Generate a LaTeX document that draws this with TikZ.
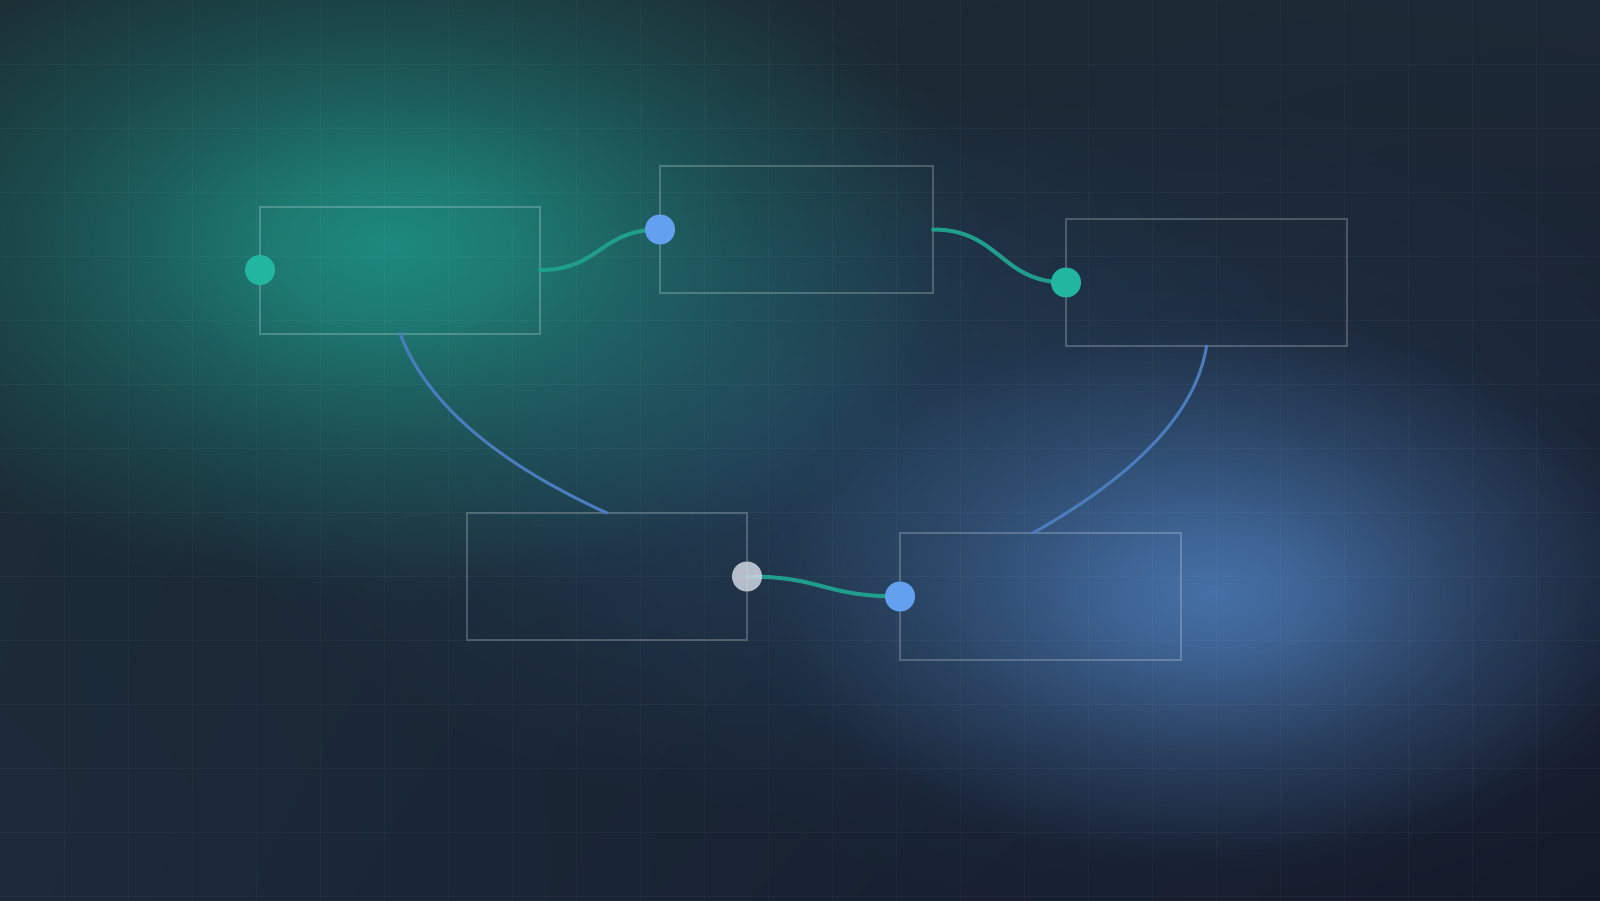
\documentclass[tikz,border=0pt]{standalone}
\usetikzlibrary{fadings,shadings,calc}
\pgfdeclareradialshading{glowsh}{\pgfpoint{0bp}{0bp}}{color(0bp)=(white); color(5bp)=(black!17); color(10bp)=(black!44); color(15bp)=(black!67); color(20bp)=(black!85); color(23bp)=(black!96); color(25bp)=(black); color(50bp)=(black)}
\pgfdeclarefading{glowfade}{\pgfuseshading{glowsh}}
\definecolor{bgUL}{HTML}{1B2C33}
\definecolor{bgUR}{HTML}{1D2836}
\definecolor{bgLL}{HTML}{1C2A3A}
\definecolor{bgLR}{HTML}{151A2A}
\definecolor{tealglow}{HTML}{1E8A7E}
\definecolor{blueglow}{HTML}{4670A6}
\definecolor{bluehaze}{HTML}{2A4A70}
\definecolor{midglow}{HTML}{2A4C6A}
\definecolor{tealdot}{HTML}{22B5A0}
\definecolor{bluedot}{HTML}{64A0F0}
\definecolor{graydot}{HTML}{D0D5E0}
\definecolor{tealline}{HTML}{1F9E8C}
\definecolor{blueline}{HTML}{4A7DBE}
\tikzset{
  card/.style={draw=white, draw opacity=0.22, line width=2pt, rectangle, inner sep=0pt, outer sep=0pt, minimum height=127pt},
  port/.style={circle, inner sep=0pt, outer sep=0pt, minimum size=30pt},
  tealwire/.style={draw=tealline, line width=4pt, line cap=round},
  bluewire/.style={draw=blueline, line width=3pt, line cap=round},
  gridline/.style={draw=white, draw opacity=0.03, line width=1pt}
}
\begin{document}
\begin{tikzpicture}[x=1pt,y=-1pt]
\useasboundingbox (0,0) rectangle (1600,900);
% background
\shade[upper left=bgUL, upper right=bgUR, lower left=bgLL, lower right=bgLR] (0,0) rectangle (1600,900);
\fill[bluehaze, fill opacity=0.4, path fading=glowfade] (450,50) rectangle (1850,950);
\fill[midglow, fill opacity=0.55, path fading=glowfade] (160,40) rectangle (1360,820);
\fill[tealglow, path fading=glowfade] (-210,-115) rectangle (990,605);
\fill[blueglow, path fading=glowfade] (753,313) rectangle (1673,873);
% grid
\foreach \gx in {64,128,...,1599} { \draw[gridline] (\gx,0) -- (\gx,900); }
\foreach \gy in {64,128,...,899} { \draw[gridline] (0,\gy) -- (1600,\gy); }
% cards
\node[card, minimum width=280pt] (b1) at (400,270) {};
\node[card, minimum width=273pt] (b2) at (796.5,229.5) {};
\node[card, minimum width=281pt] (b3) at (1206.5,282.5) {};
\node[card, minimum width=280pt] (b4) at (607,576.5) {};
\node[card, minimum width=281pt] (b5) at (1040.5,596.5) {};
\coordinate (b5in) at ($(b5.north)+(-7.5,0)$);
% wires
\draw[tealwire] (b1.east) .. controls +(60,0) and +(-60,0) .. (b2.west);
\draw[tealwire] (b2.east) .. controls +(67,0) and +(-66,0) .. (b3.west);
\draw[tealwire] (b4.east) .. controls +(76,0) and +(-77,0) .. (b5.west);
\draw[bluewire] (b1.south) .. controls (426,402) and (495,462) .. (b4.north);
\draw[bluewire] (b3.south) .. controls (1196.4,411) and (1138.6,473.3) .. (b5in);
% ports
\node[port, fill=tealdot] (p1) at (b1.west) {};
\node[port, fill=bluedot] (p2) at (b2.west) {};
\node[port, fill=tealdot] (p3) at (b3.west) {};
\node[port, fill=graydot, fill opacity=0.85] (p4) at (b4.east) {};
\node[port, fill=bluedot] (p5) at (b5.west) {};
\end{tikzpicture}
\end{document}
